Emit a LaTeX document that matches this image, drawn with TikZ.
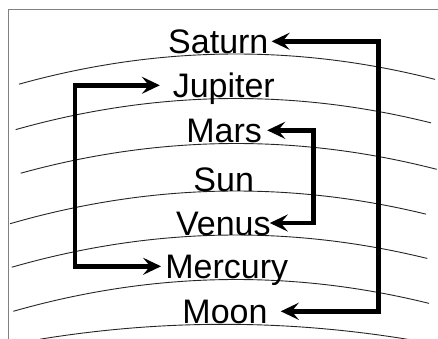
\documentclass[tikz,border=0pt]{standalone}
\usepackage{fontspec}
\setmainfont{Liberation Sans}
\usetikzlibrary{arrows.meta}
\begin{document}
\begin{tikzpicture}[x=1pt,y=-1pt,
  lbl/.style={inner sep=0pt, anchor=base, font=\fontsize{34}{40}\selectfont, text height=24pt, text depth=0pt},
  orbit/.style={line width=0.9pt, black!85},
  tipstyle/.style={},
  link/.style={line width=4.5pt, {Stealth[length=18pt,width=17pt,inset=7pt]}-{Stealth[length=18pt,width=17pt,inset=7pt]}},
  framestyle/.style={draw=black!50, line width=1pt}]
\clip (0,0) rectangle (438,338);
\fill[white] (0,0) rectangle (438,338);
\draw[framestyle] (8,9) rectangle (470,370);
% orbits
\foreach \a/\l/\r in {54/19/435, 98.5/15.7/431, 143.5/20.7/436.7, 191/10/426, 235/11.7/427.3, 279.5/13.3/429}{
  \draw[orbit] plot[domain=\l:\r, samples=60, smooth] (\x, {\a + 0.000638*(\x-236)*(\x-236)});
}
\draw[orbit] plot[domain=40:410, samples=60, smooth] (\x, {324.3 + 0.000445*(\x-223.5)*(\x-223.5)});
% labels
\node[lbl] (saturn)  at (218.3, 53.3) {Saturn};
\node[lbl] (jupiter) at (223.8, 97.3) {Jupiter};
\node[lbl] (mars)    at (224.2, 142.3) {Mars};
\node[lbl] (sun)     at (223.7, 191) {Sun};
\node[lbl] (venus)   at (223.3, 235) {Venus};
\node[lbl] (mercury) at (226.7, 278.3) {Mercury};
\node[lbl] (moon)    at (225, 323.3) {Moon};
% connectors
\coordinate (rR) at (378.3, 180);
\coordinate (rM) at (313.3, 180);
\coordinate (rL) at (75, 180);
\draw[link] ([xshift=3pt]saturn.east) -| (rR) |- ([xshift=13pt]moon.east);
\draw[link] ([xshift=5pt]mars.east) -| (rM) |- ([xshift=-1pt]venus.east);
\draw[link] ([xshift=-12.7pt]jupiter.west) -| (rL) |- ([xshift=-4pt]mercury.west);
\end{tikzpicture}
\end{document}
